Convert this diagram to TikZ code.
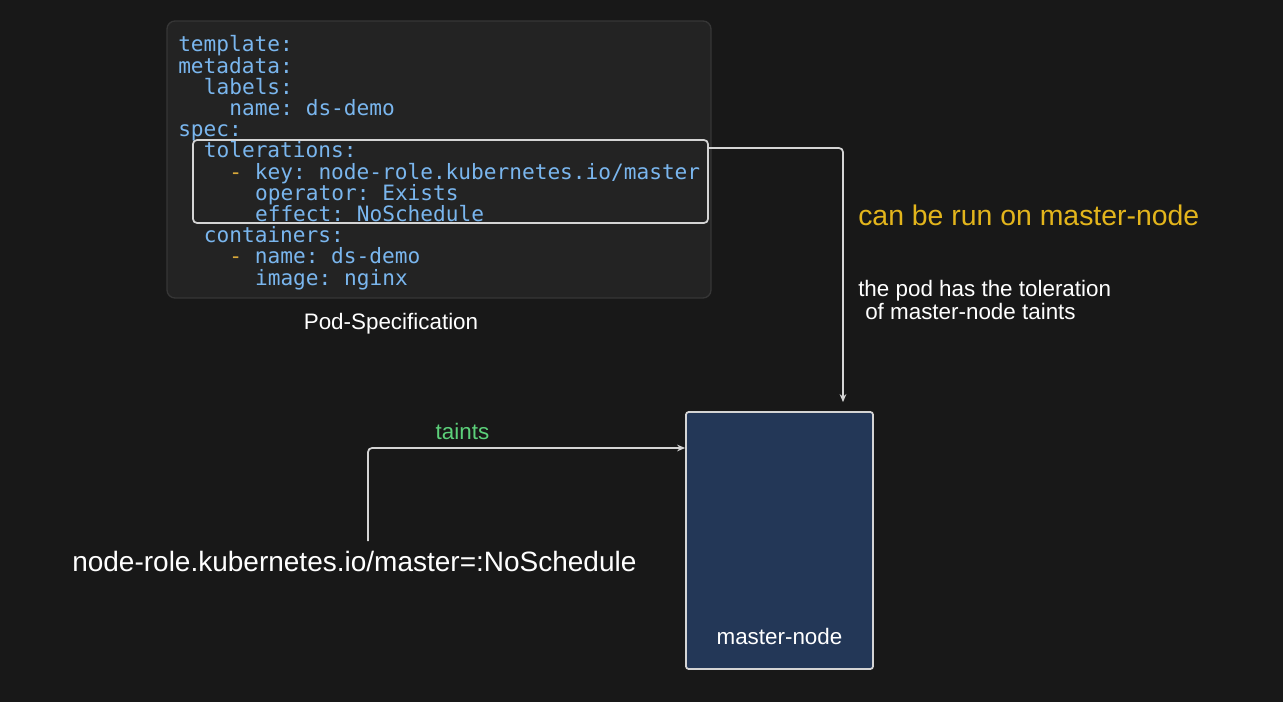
\documentclass[tikz,border=0pt]{standalone}
\usepackage{fontspec}
\setmainfont{Liberation Sans}
\setmonofont{DejaVu Sans Mono}
\usetikzlibrary{arrows.meta}
\definecolor{bg}{HTML}{181818}
\definecolor{codefill}{HTML}{232323}
\definecolor{codeborder}{HTML}{363636}
\definecolor{codeblue}{HTML}{7AB6EE}
\definecolor{dashyellow}{HTML}{D9A93A}
\definecolor{linegray}{HTML}{D4D4D4}
\definecolor{nodefill}{HTML}{233757}
\definecolor{yellowtext}{HTML}{E3B51C}
\definecolor{greentext}{HTML}{5CD07A}
\tikzset{
  code/.style={anchor=base west, inner sep=0pt, font=\ttfamily\fontsize{15.85}{16}\selectfont, text=codeblue},
  conn/.style={draw=linegray, line width=1.3pt, rounded corners=3pt, -{Stealth[length=6pt,width=5pt]}},
  lbl/.style={inner sep=0pt, text=white, font=\fontsize{16.8}{20}\selectfont},
  ylw/.style={inner sep=0pt, anchor=base west, text=yellowtext, font=\fontsize{21.3}{24}\selectfont},
}
\begin{document}
\begin{tikzpicture}[x=0.75pt, y=-0.75pt]
\fill[bg] (0,0) rectangle (1283,702);
\useasboundingbox (0,0) rectangle (1283,702);
% code box
\node (pod) [draw=codeborder, fill=codefill, line width=1pt, rounded corners=6pt, minimum width=408pt, minimum height=207.75pt, inner sep=0pt] at (439,159.5) {};
\node (tol) [draw=linegray, line width=1.3pt, rounded corners=3pt, minimum width=386.25pt, minimum height=62.25pt, inner sep=0pt] at (450.5,181.5) {};
% code lines
\node (l1) [code] at (178,52) {template:};
\node (l2) [code] at (178,73.2) {metadata:};
\node (l3) [code] at (203.6,94.4) {labels:};
\node (l4) [code] at (229.2,115.6) {name: ds-demo};
\node (l5) [code] at (178,136.8) {spec:};
\node (l6) [code] at (203.6,158) {tolerations:};
\node (l7) [code] at (229.2,179.2) {{\color{dashyellow}-} key: node-role.kubernetes.io/master};
\node (l8) [code] at (254.8,200.4) {operator: Exists};
\node (l9) [code] at (254.8,221.6) {effect: NoSchedule};
\node (l10) [code] at (203.6,242.8) {containers:};
\node (l11) [code] at (229.2,264) {{\color{dashyellow}-} name: ds-demo};
\node (l12) [code] at (254.8,285.2) {image: nginx};
\node (podlbl) [lbl, anchor=base] at (391,330) {Pod-Specification};
% master node
\node (mn) [draw=linegray, fill=nodefill, line width=1.3pt, rounded corners=2pt, minimum width=140.25pt, minimum height=192.75pt, inner sep=0pt] at (779.5,540.5) {};
\node (mnlbl) [lbl, anchor=base] at (779.5,644) {master-node};
% right texts
\node (run) [ylw] at (858,226) {can be run on master-node};
\node (why1) [lbl, anchor=base west] at (858,297) {the pod has the toleration};
\node (why2) [lbl, anchor=base west] at (865,320) {of master-node taints};
% taint text
\node (taint) [inner sep=0pt, anchor=base west, text=white, font=\fontsize{21}{24}\selectfont] at (72,571) {node-role.kubernetes.io/master=:NoSchedule};
\node (tlbl) [lbl, anchor=base, text=greentext] at (462.5,440) {taints};
% connectors
\coordinate (turn) at (843,148);
\coordinate (tstart) at (368,541);
\coordinate (tcorner) at (368,448);
\draw[conn, shorten >=6.75pt] (tol.east |- turn) -- (turn) -- (turn |- mn.north);
\draw[conn] (tstart) -- (tcorner) -- (tcorner -| mn.west);
\end{tikzpicture}
\end{document}
